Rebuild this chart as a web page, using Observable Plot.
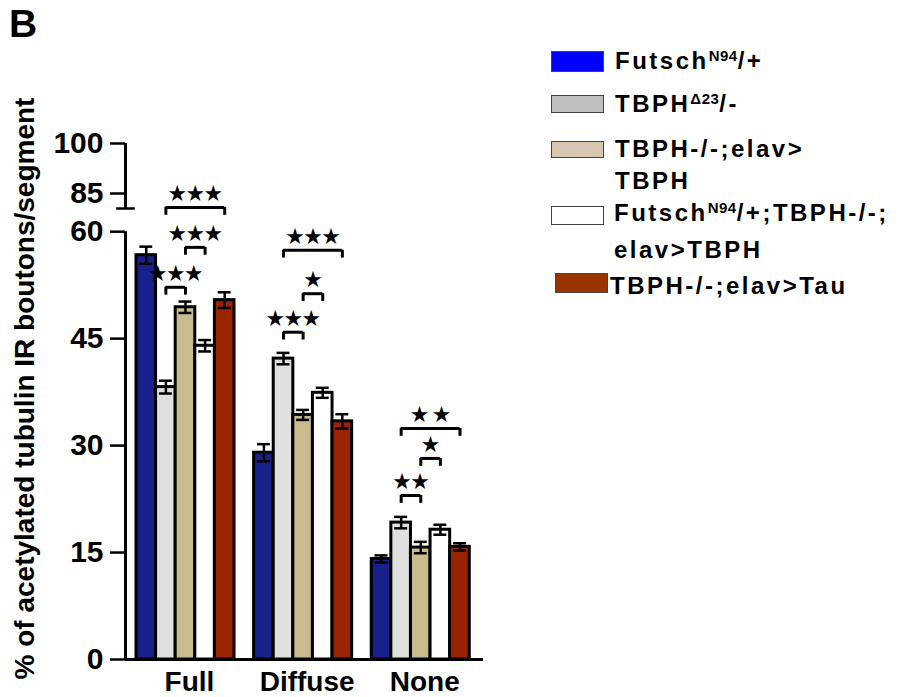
<!DOCTYPE html>
<html>
<head>
<meta charset="utf-8">
<script src="https://cdn.jsdelivr.net/npm/d3@7"></script>
<script src="https://cdn.jsdelivr.net/npm/@observablehq/plot@0.6"></script>
<style>
  html, body { margin: 0; padding: 0; background: #fff; }
  #wrap { position: relative; width: 904px; height: 697px; overflow: hidden; font-family: "Liberation Sans", Arial, sans-serif; font-weight: bold; color: #000; }
  #panel { position: absolute; left: 9px; top: 4px; font-size: 39px; line-height: 39px; }
  .sw { position: absolute; box-sizing: border-box; border: 1px solid #444; }
  .lg { position: absolute; font-size: 24px; line-height: 28px; letter-spacing: 2.5px; white-space: nowrap; }
  .lg sup { font-size: 15px; letter-spacing: 0.5px; vertical-align: 0; position: relative; top: -8px; }
</style>
</head>
<body>
<div id="wrap">
  <div id="chart"></div>
  <div id="panel">B</div>
  <div id="legend"></div>
</div>
<script>
// ---- data ----
const groups = ["Full", "Diffuse", "None"];
const series = ["Futsch^N94^/+", "TBPH^Δ23^/-", "TBPH-/-;elav>TBPH", "Futsch^N94^/+;TBPH-/-;elav>TBPH", "TBPH-/-;elav>Tau"];
const fullValues    = [56.7, 38.2, 49.4, 44.0, 50.4];
const diffuseValues = [29.0, 42.2, 34.3, 37.4, 33.4];
const noneValues    = [14.1, 19.2, 15.7, 18.2, 15.8];
const fullErrors    = [1.2, 0.9, 0.8, 0.8, 1.1];
const diffuseErrors = [1.2, 0.8, 0.7, 0.7, 1.0];
const noneErrors    = [0.5, 0.8, 0.8, 0.7, 0.5];
const yTicksLower = [0, 15, 30, 45, 60];
const yTicksUpper = [85, 100];
const yLabel = "% of acetylated tubulin IR boutons/segment";
// significance brackets
const bracketGroup = ["Full", "Full", "Full", "Diffuse", "Diffuse", "Diffuse", "None", "None", "None"];
const bracketFrom  = [1, 2, 1, 1, 2, 1, 1, 2, 1];
const bracketTo    = [2, 3, 4, 2, 3, 4, 2, 3, 4];
const bracketY     = [52.2, 57.8, 63.4, 45.9, 51.3, 57.4, 23.0, 28.2, 32.4];
const bracketLabel = ["★★★", "★★★", "★★★", "★★★", "★", "★★★", "★★", "★", "★ ★"];
// legend text lines (^...^ = superscript)
const legendLines = [["Futsch^N94^/+"], ["TBPH^Δ23^/-"], ["TBPH-/-;elav>", "TBPH"], ["Futsch^N94^/+;TBPH-/-;", "elav>TBPH"], ["TBPH-/-;elav>Tau"]];

// ---- styles ----
const barColors = ["#18208c", "#e0e0e0", "#c8bc8e", "#ffffff", "#9a2300"];
const legendColors = ["#0000ff", "#c0c0c0", "#d8c5b2", "#ffffff", "#993300"];

// ---- layout helpers ----
const slotsPerGroup = series.length + 1;
const xMin = -0.56, xMax = 17.7;
const breakStart = 80.5, lowerTop = 63.25, upperRatio = 0.4675;
const pos = v => v <= 60 ? v : lowerTop + (v - breakStart) * upperRatio;
const legLen = 1.1, capHalf = 0.33;

const valuesByGroup = [fullValues, diffuseValues, noneValues];
const errorsByGroup = [fullErrors, diffuseErrors, noneErrors];
const rows = groups.flatMap((g, gi) => series.map((s, si) => ({
  group: g, series: s, slot: gi * slotsPerGroup + si,
  value: valuesByGroup[gi][si], err: errorsByGroup[gi][si]
})));
const caps = rows.flatMap(d => [
  {x1: d.slot + 0.5 - capHalf, x2: d.slot + 0.5 + capHalf, y: d.value - d.err},
  {x1: d.slot + 0.5 - capHalf, x2: d.slot + 0.5 + capHalf, y: d.value + d.err}
]);
const brackets = bracketGroup.map((g, i) => {
  const gi = groups.indexOf(g);
  return {
    x1: gi * slotsPerGroup + bracketFrom[i] + 0.5,
    x2: gi * slotsPerGroup + bracketTo[i] + 0.5,
    y: bracketY[i], label: bracketLabel[i]
  };
});
const legs = brackets.flatMap(b => [{x: b.x1, y: b.y}, {x: b.x2, y: b.y}]);
const groupCenters = groups.map((g, gi) => ({group: g, center: gi * slotsPerGroup + series.length / 2}));
const upperLabel = new Map(yTicksUpper.map(t => [pos(t), String(t)]));

const chart = Plot.plot({
  width: 904, height: 697,
  marginLeft: 125, marginRight: 421, marginTop: 143, marginBottom: 38,
  x: {domain: [xMin, xMax], axis: null},
  y: {domain: [0, pos(100)]},
  color: {domain: series, range: barColors},
  style: {fontFamily: "'Liberation Sans', Arial, sans-serif", fontWeight: "bold", fontSize: "30px", background: "transparent", overflow: "visible"},
  marks: [
    Plot.rectY(rows, {x1: "slot", x2: d => d.slot + 1, y1: () => 0, y2: "value", fill: "series", stroke: "#000", strokeWidth: 3}),
    Plot.ruleX(rows, {x: d => d.slot + 0.5, y1: d => d.value - d.err, y2: d => d.value + d.err, stroke: "#000", strokeWidth: 2.5}),
    Plot.ruleY(caps, {x1: "x1", x2: "x2", y: "y", stroke: "#000", strokeWidth: 2.5}),
    // axes
    Plot.ruleY([0], {stroke: "#000", strokeWidth: 3}),
    Plot.ruleX([xMin], {y1: 0, y2: 60, stroke: "#000", strokeWidth: 3}),
    Plot.ruleX([xMin], {y1: pos(breakStart), y2: pos(100), stroke: "#000", strokeWidth: 3}),
    Plot.ruleY([pos(breakStart)], {x1: xMin - 0.45, x2: xMin + 0.5, stroke: "#000", strokeWidth: 2.5}),
    Plot.axisY(yTicksLower, {anchor: "left", tickSize: 15, tickPadding: 7, strokeWidth: 2.5, fontSize: 30, fontWeight: "bold", label: null}),
    Plot.axisY(yTicksUpper.map(pos), {anchor: "left", tickSize: 15, tickPadding: 7, strokeWidth: 2.5, fontSize: 30, fontWeight: "bold", label: null, tickFormat: v => upperLabel.get(v)}),
    Plot.text([yLabel], {frameAnchor: "left", dx: -100, dy: -13, rotate: -90, textAnchor: "middle", fontSize: 28, fontWeight: "bold"}),
    // group labels
    Plot.text(groupCenters, {x: "center", y: () => 0, text: "group", dy: 23, dx: 4, fontSize: 28, fontWeight: "bold", lineAnchor: "middle"}),
    // significance brackets
    Plot.ruleY(brackets, {x1: "x1", x2: "x2", y: "y", stroke: "#000", strokeWidth: 3}),
    Plot.ruleX(legs, {x: "x", y1: d => d.y - legLen, y2: "y", stroke: "#000", strokeWidth: 3}),
    Plot.text(brackets, {x: d => (d.x1 + d.x2) / 2, y: "y", text: "label", lineAnchor: "middle", dy: -13, fontSize: 18, fontFamily: "'Noto Sans CJK SC', 'DejaVu Sans', sans-serif", fontWeight: "normal"})
  ]
});
document.getElementById("chart").appendChild(chart);

// ---- legend (HTML) ----
const legendBoxes = [
  {sw: [551, 51, 53, 21], tx: 615, lines: [61]},
  {sw: [551, 95, 53, 18], tx: 615, lines: [104]},
  {sw: [551, 141, 53, 17], tx: 615, lines: [149, 181]},
  {sw: [551, 206, 53, 19], tx: 614, lines: [213, 250]},
  {sw: [555, 273, 53, 20], tx: 610, lines: [286]}
];
const legend = document.getElementById("legend");
function richText(el, str) {
  str.split("^").forEach((part, i) => {
    if (!part) return;
    if (i % 2 === 1) { const s = document.createElement("sup"); s.textContent = part; el.appendChild(s); }
    else el.appendChild(document.createTextNode(part));
  });
}
legendBoxes.forEach((b, i) => {
  const sw = document.createElement("div");
  sw.className = "sw";
  Object.assign(sw.style, {left: b.sw[0] + "px", top: b.sw[1] + "px", width: b.sw[2] + "px", height: b.sw[3] + "px", background: legendColors[i]});
  legend.appendChild(sw);
  legendLines[i].forEach((line, li) => {
    const t = document.createElement("div");
    t.className = "lg";
    Object.assign(t.style, {left: b.tx + "px", top: (b.lines[li] - 14) + "px"});
    richText(t, line);
    legend.appendChild(t);
  });
});
</script>
</body>
</html>
